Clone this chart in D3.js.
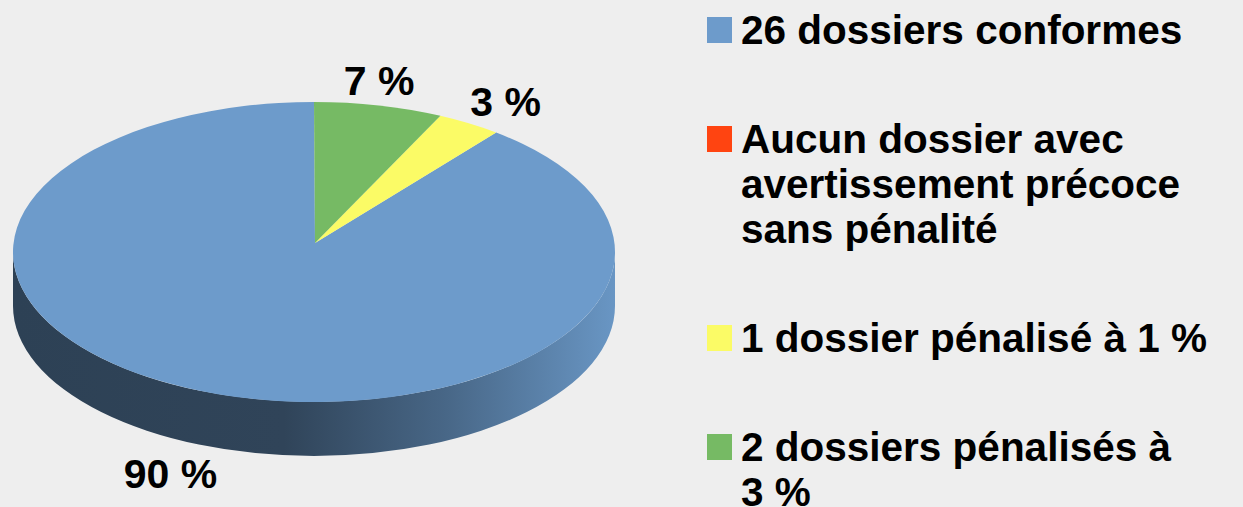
<!DOCTYPE html>
<html>
<head>
<meta charset="utf-8">
<script src="https://cdn.jsdelivr.net/npm/d3@7"></script>
<style>
  html, body { margin: 0; padding: 0; background: #eeeeee; }
  svg { display: block; }
  text { font-family: "Liberation Sans", Arial, sans-serif; font-weight: bold; fill: #000; }
</style>
</head>
<body>
<div id="chart"></div>
<script>
// donnees du graphique
var categories = ["26 dossiers conformes", "Aucun dossier avec avertissement précoce sans pénalité", "1 dossier pénalisé à 1 %", "2 dossiers pénalisés à 3 %"];
var legendLines = [
    ["26 dossiers conformes"],
    ["Aucun dossier avec", "avertissement précoce", "sans pénalité"],
    ["1 dossier pénalisé à 1 %"],
    ["2 dossiers pénalisés à", "3 %"]
];
var values = [26, 0, 1, 2];
var colors = ["#6d9bcb", "#ff4411", "#fbfb66", "#76ba64"];

var W = 1243, H = 507;
var cx = 314, cy = 252;       // centre de l'ellipse du dessus
var apexX = 315, apexY = 243; // sommet des parts (perspective)
var rx = 301, ry = 150, depth = 54;

var svg = d3.select("#chart").append("svg").attr("width", W).attr("height", H);
svg.append("rect").attr("width", W).attr("height", H).attr("fill", "#eeeeee");

var defs = svg.append("defs");
colors.forEach(function (c, i) {
    var g = defs.append("linearGradient").attr("id", "side" + i)
        .attr("gradientUnits", "userSpaceOnUse")
        .attr("x1", cx - rx).attr("y1", 0).attr("x2", cx + rx).attr("y2", 0);
    var base = d3.color(c);
    g.append("stop").attr("offset", 0).attr("stop-color", base.darker(2.45));
    g.append("stop").attr("offset", 0.45).attr("stop-color", base.darker(2.3));
    g.append("stop").attr("offset", 0.72).attr("stop-color", base.darker(1.15));
    g.append("stop").attr("offset", 1).attr("stop-color", base.darker(0.1));
});

function pt(a, dy) {
    return [cx + rx * Math.sin(a), cy - ry * Math.cos(a) + (dy || 0)];
}

var total = d3.sum(values);
// sens anti-horaire depuis le haut
var pie = d3.pie().sort(null).startAngle(0).endAngle(-2 * Math.PI);
var arcs = pie(values).map(function (d, i) {
    var lo = Math.min(d.startAngle, d.endAngle), hi = Math.max(d.startAngle, d.endAngle);
    while (lo < 0) { lo += 2 * Math.PI; hi += 2 * Math.PI; }
    return {i: i, value: d.value, lo: lo, hi: hi};
}).filter(function (d) { return d.value > 0; });

// cotes (moitie avant)
var sideG = svg.append("g");
var fronts = [[Math.PI / 2, 3 * Math.PI / 2], [5 * Math.PI / 2, 7 * Math.PI / 2]];
arcs.forEach(function (d) {
    fronts.forEach(function (f) {
        var s = Math.max(d.lo, f[0]), e = Math.min(d.hi, f[1]);
        if (e <= s) return;
        var p0 = pt(s), p1 = pt(e), q1 = pt(e, depth), q0 = pt(s, depth);
        var path = "M" + p0 + "A" + rx + "," + ry + " 0 0 1 " + p1 +
            "L" + q1 + "A" + rx + "," + ry + " 0 0 0 " + q0 + "Z";
        sideG.append("path").attr("d", path).attr("fill", "url(#side" + d.i + ")");
    });
});

// dessus
var topG = svg.append("g");
arcs.forEach(function (d) {
    var p0 = pt(d.lo), p1 = pt(d.hi);
    var large = (d.hi - d.lo) > Math.PI ? 1 : 0;
    var path = "M" + apexX + "," + apexY + "L" + p0 +
        "A" + rx + "," + ry + " 0 " + large + " 1 " + p1 + "Z";
    topG.append("path").attr("d", path).attr("fill", colors[d.i]);
});

// etiquettes de pourcentage
var labG = svg.append("g");
arcs.forEach(function (d) {
    var m = (d.lo + d.hi) / 2;
    var s = Math.sin(m), c = Math.cos(m);
    var x = cx + (rx + 2) * s;
    var y = cy - (ry + 26) * c + (c < 0 ? depth : 0);
    var anchor = s > 0.3 ? "start" : (s < -0.3 ? "end" : "middle");
    labG.append("text")
        .attr("x", x).attr("y", y)
        .attr("dy", "0.36em")
        .attr("text-anchor", anchor)
        .style("font-size", "41px")
        .text(Math.round(d.value / total * 100) + " %");
});

// legende
var legG = svg.append("g");
var ly = 44;
legendLines.forEach(function (lines, i) {
    legG.append("rect")
        .attr("x", 707).attr("y", ly - 27)
        .attr("width", 25).attr("height", 26)
        .attr("fill", colors[i]);
    var t = legG.append("text").attr("x", 741).attr("y", ly).style("font-size", "40.5px");
    lines.forEach(function (l, k) {
        t.append("tspan").attr("x", 741).attr("y", ly + k * 45).text(l);
    });
    ly += 109 + (lines.length - 1) * 45;
});
</script>
</body>
</html>
